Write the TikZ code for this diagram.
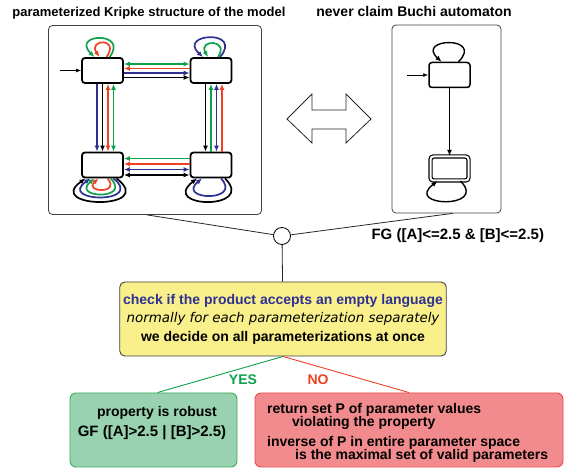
\documentclass[tikz,border=0pt]{standalone}
\usepackage{fontspec}
\setmainfont{Liberation Sans}
\newfontfamily\slantfont{DejaVu Sans}
\usetikzlibrary{arrows.meta, positioning, calc}
\definecolor{KBlue}{HTML}{2E3192}
\definecolor{KRed}{HTML}{EF4123}
\definecolor{KGreen}{HTML}{0DA14B}
\definecolor{CheckFill}{HTML}{F9F08C}
\definecolor{RobustFill}{HTML}{98D2B0}
\definecolor{RobustLine}{HTML}{3DAB5E}
\definecolor{FailFill}{HTML}{F28B8D}
\definecolor{FailLine}{HTML}{E94B4E}

\begin{document}
\begin{tikzpicture}[x=1pt, y=-1pt, >={Latex[length=6pt,width=5pt]},
  kstate/.style={draw, line width=1.8pt, rounded corners=3pt, minimum width=41pt,
                 minimum height=25pt, inner sep=0pt},
  panel/.style={draw=black!75, line width=0.8pt, rounded corners=4pt, inner sep=0pt},
  heading/.style={anchor=base, font=\fontsize{13}{15}\selectfont\bfseries},
  kedge/.style={line width=1.7pt},
  outcome/.style={rounded corners=6pt, line width=0.9pt, minimum height=74pt, inner sep=0pt},
  wire/.style={line width=0.8pt, black!85}]

\useasboundingbox (0,0) rectangle (566,470);

\node[panel, minimum width=213pt, minimum height=189pt] (kripke) at (155,120) {};
\node[panel, minimum width=109pt, minimum height=188pt] (buchi) at (446.5,119) {};
\node[heading] (ktitle) at (149,17) {parameterized Kripke structure of the model};
\node[heading, font=\fontsize{14}{16}\selectfont\bfseries] (btitle) at (414,17) {never claim Buchi automaton};

% Kripke structure
\node[kstate] (tl) at (102.5,70.5) {};
\node[kstate] (tr) at (211,70.5) {};
\node[kstate] (bl) at (102.5,165) {};
\node[kstate] (br) at (211,165) {};
\coordinate (kinit) at (60,70.5);
\draw[->, line width=0.8pt, >={Latex[length=5pt,width=4pt]}] (kinit) -- (tl);

\draw[kedge, KGreen, <->] ($(tl.east)+(0,-6.5)$) -- ($(tr.west)+(0,-6.5)$);
\draw[kedge, KRed, <-] ($(tl.east)+(0,-2)$) -- ($(tr.west)+(0,-2)$);
\draw[kedge, KBlue, ->] ($(tl.east)+(0,2.5)$) -- ($(tr.west)+(0,2.5)$);
\draw[kedge, ->] ($(tl.east)+(0,7)$) -- ($(tr.west)+(0,7)$);

\draw[kedge, KBlue, ->] ($(tl.south)+(-5.5,0)$) -- ($(bl.north)+(-5.5,0)$);
\draw[kedge, ->] (tl.south) -- (bl.north);
\draw[kedge, KRed, <->] ($(tl.south)+(5.5,0)$) -- ($(bl.north)+(5.5,0)$);
\draw[kedge, KGreen, <->] ($(tl.south)+(11,0)$) -- ($(bl.north)+(11,0)$);

\draw[kedge, ->] ($(tr.south)+(-5.5,0)$) -- ($(br.north)+(-5.5,0)$);
\draw[kedge, KGreen, <-] (tr.south) -- (br.north);
\draw[kedge, KBlue, <->] ($(tr.south)+(5.5,0)$) -- ($(br.north)+(5.5,0)$);
\draw[kedge, KRed, <-] ($(tr.south)+(11,0)$) -- ($(br.north)+(11,0)$);

\draw[kedge, KGreen, <-] ($(bl.east)+(0,-6.5)$) -- ($(br.west)+(0,-6.5)$);
\draw[kedge, KRed, <-] ($(bl.east)+(0,-1)$) -- ($(br.west)+(0,-1)$);
\draw[kedge, KBlue, <->] ($(bl.east)+(0,4.5)$) -- ($(br.west)+(0,4.5)$);
\draw[kedge, <->] ($(bl.east)+(0,10)$) -- ($(br.west)+(0,10)$);

% self loops
\draw[kedge, KGreen, ->] ($(tl.north)+(7,0)$) .. controls +(20,-26) and +(-24,-24) .. ($(tl.north)+(-8,0)$);
\draw[kedge, KRed, ->] ($(tl.north)+(4,0)$) .. controls +(14,-20) and +(-12,-18) .. ($(tl.north)+(-3,0)$);
\draw[kedge, KBlue, ->] ($(tr.north)+(9,0)$) .. controls +(24,-28) and +(-26,-24) .. ($(tr.north)+(-8,0)$);
\draw[kedge, KGreen, ->] ($(tr.north)+(7,0)$) .. controls +(12,-18) and +(-10,-18) .. ($(tr.north)+(-3,0)$);
\draw[kedge, ->] ($(bl.south)+(14,0)$) .. controls +(42,32) and +(-42,30) .. ($(bl.south)+(-17,0)$);
\draw[kedge, KBlue, ->] ($(bl.south)+(11,0)$) .. controls +(32,26) and +(-34,24) .. ($(bl.south)+(-12,0)$);
\draw[kedge, KGreen, ->] ($(bl.south)+(8,0)$) .. controls +(22,22) and +(-24,20) .. ($(bl.south)+(-8,0)$);
\draw[kedge, KRed, ->] ($(bl.south)+(5,0)$) .. controls +(14,16) and +(-15,14) .. ($(bl.south)+(-4,0)$);
\draw[kedge, ->] ($(br.south)+(14,0)$) .. controls +(32,32) and +(-38,30) .. ($(br.south)+(-14,0)$);
\draw[kedge, KBlue, ->] ($(br.south)+(10,0)$) .. controls +(22,24) and +(-26,22) .. ($(br.south)+(-9,0)$);

% Buchi automaton
\node[kstate, line width=1.5pt] (bt) at (449.5,75) {};
\node[kstate, line width=1.2pt, double, double distance=2pt, minimum width=38pt, minimum height=24pt] (bb) at (449.5,168.5) {};
\coordinate (binit) at (407,75);
\draw[->, line width=0.9pt, >={Latex[length=5pt,width=4pt]}] (binit) -- (bt);
\draw[kedge, line width=1.4pt, ->] (bt) -- (bb);
\draw[kedge, line width=1.4pt, ->] ($(bt.north)+(9,0)$) .. controls +(26,-26) and +(-26,-24) .. ($(bt.north)+(-8,0)$);
\draw[kedge, line width=1.4pt, ->] ($(bb.south)+(11,0)$) .. controls +(28,28) and +(-34,26) .. ($(bb.south)+(-12,0)$);

% product
\draw[line width=0.8pt, black!85] (287,119) -- (312,94) -- (312,110) -- (346,110) -- (346,94)
  -- (371,119) -- (346,143) -- (346,129) -- (312,129) -- (312,143) -- cycle;

\node[circle, draw, fill=white, line width=0.8pt, minimum size=17pt, inner sep=0pt] (join) at (282,236) {};
\draw[wire] ($(kripke.south)+(-8,0)$) -- (join);
\draw[wire] ($(buchi.south)+(6,0)$) -- (join);
\node[anchor=base west, font=\fontsize{15}{17}\selectfont\bfseries] (formula) at (368,240) {FG ([A]<=2.5 \& [B]<=2.5)};

\node[draw=black!75, fill=CheckFill, rounded corners=5pt, line width=0.9pt,
      minimum width=320pt, minimum height=74pt, align=center,
      font=\fontsize{14}{18.5}\selectfont] (check) at (283,319) {
    {\bfseries\color{KBlue} check if the product accepts an empty language}\\
    {\slantfont\itshape\fontsize{13.4}{18.5}\selectfont normally for each parameterization separately}\\
    {\bfseries we decide on all parameterizations at once}
};
\draw[wire] (join) -- (check);

\node[outcome, draw=RobustLine, fill=RobustFill, minimum width=167pt] (robust) at (153.5,430) {};
\node[outcome, draw=FailLine, fill=FailFill, minimum width=308pt] (fail) at (409,430) {};
\draw[line width=0.9pt, KGreen] (check.south) -- ($(robust.north)+(4,0)$);
\draw[line width=0.9pt, KRed] (check.south) -- (fail.north);
\node[anchor=base, text=KGreen, font=\fontsize{14}{16}\selectfont\bfseries] (yes) at (243,385) {YES};
\node[anchor=base, text=KRed, font=\fontsize{14}{16}\selectfont\bfseries] (no) at (318,385) {NO};

\node[anchor=base, font=\fontsize{14}{16}\selectfont\bfseries] (robusttext) at (157,416.7) {property is robust};
\node[anchor=base, font=\fontsize{15}{17}\selectfont\bfseries] (gftext) at (152,437) {GF ([A]>2.5 | [B]>2.5)};
\node[anchor=north west, inner sep=0pt, align=left, font=\fontsize{14}{13.4}\selectfont\bfseries] (failtext) at (267,403) {
    return set P of parameter values\\
    \hspace*{25pt}violating the property\\[6pt]
    inverse of P in entire parameter space\\
    \hspace*{28pt}is the maximal set of valid parameters
};
\end{tikzpicture}
\end{document}
